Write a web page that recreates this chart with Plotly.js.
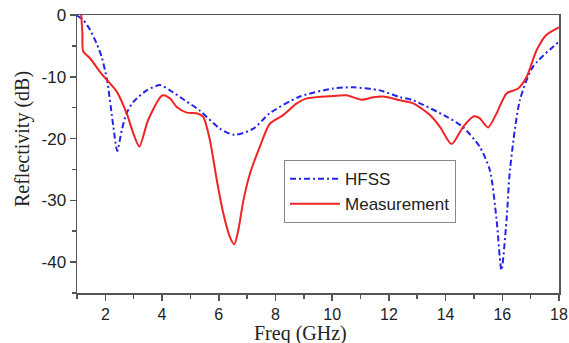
<!DOCTYPE html>
<html>
<head>
<meta charset="utf-8">
<script src="https://cdn.plot.ly/plotly-3.0.1.min.js"></script>
<style>html,body{margin:0;padding:0;background:#fff;}#chart{width:569px;height:343px;}</style>
</head>
<body>
<div id="chart"></div>
<script>
const hfssFreq = [1.0, 1.22, 1.46, 1.69, 1.87, 2.06, 2.28, 2.42, 2.58, 2.75, 2.99, 3.46, 3.93, 4.28, 4.8, 5.34, 6.04, 6.55, 7.22, 7.8, 8.86, 10.04, 10.74, 11.68, 12.39, 12.85, 14.05, 14.6, 15.2, 15.56, 15.8, 15.97, 16.15, 16.27, 16.62, 17.08, 18.0];
const hfssRefl = [-0.1, -0.8, -2.4, -4.6, -6.8, -10.5, -18.0, -22.0, -18.6, -15.9, -14.05, -12.2, -11.35, -12.2, -13.8, -15.5, -18.4, -19.4, -18.4, -15.9, -13.2, -11.9, -11.7, -12.2, -13.3, -13.8, -16.5, -18.1, -21.3, -25.1, -33.2, -41.3, -33.2, -25.1, -13.8, -8.4, -4.3];

const measFreq = [1.15, 1.19, 1.22, 1.46, 1.81, 2.05, 2.4, 2.75, 2.99, 3.2, 3.51, 4.02, 4.28, 4.52, 4.87, 5.22, 5.45, 5.69, 5.93, 6.16, 6.39, 6.55, 6.69, 6.87, 7.1, 7.45, 7.8, 8.27, 8.75, 9.1, 10.04, 10.5, 11.04, 11.45, 11.8, 12.39, 12.86, 13.45, 13.8, 14.21, 14.62, 15.0, 15.2, 15.5, 15.8, 16.15, 16.56, 16.86, 17.21, 17.56, 18.0];
const measRefl = [0, -3.0, -5.9, -7.0, -9.2, -10.5, -12.4, -15.9, -19.2, -21.3, -17.0, -13.0, -13.5, -14.9, -15.8, -15.9, -16.5, -20.3, -26.7, -32.1, -35.9, -37.1, -34.8, -30.0, -25.7, -21.3, -17.6, -16.2, -14.3, -13.5, -13.1, -13.0, -13.7, -13.3, -13.2, -13.8, -14.3, -16.2, -18.1, -20.9, -18.1, -16.4, -16.7, -18.2, -15.9, -12.7, -11.9, -10.0, -5.7, -3.2, -2.0];

const xTickVals = [2, 4, 6, 8, 10, 12, 14, 16, 18];
const yTickVals = [0, -10, -20, -30, -40];
const xTitle = 'Freq (GHz)';
const yTitle = 'Reflectivity (dB)';

const traces = [
  {x: hfssFreq, y: hfssRefl, name: 'HFSS', type: 'scatter', mode: 'lines',
   line: {color: '#2424e8', width: 2, dash: '6px,3px,2px,3px', shape: 'spline', smoothing: 0.7}},
  {x: measFreq, y: measRefl, name: 'Measurement', type: 'scatter', mode: 'lines',
   line: {color: '#f02424', width: 2, shape: 'spline', smoothing: 0.7}}
];

const axisCommon = {
  showgrid: false, zeroline: false, showline: true, linecolor: '#555', linewidth: 1.5,
  mirror: true, ticks: 'outside', ticklen: 6, tickwidth: 1.5, tickcolor: '#555',
  tickfont: {family: 'Arial, Liberation Sans, sans-serif', size: 17, color: '#222'}
};
const titleFont = {family: 'Times New Roman, Liberation Serif, serif', size: 20, color: '#222'};

const layout = {
  width: 569, height: 343,
  margin: {l: 77, r: 10, t: 15, b: 50},
  paper_bgcolor: '#fff', plot_bgcolor: '#fff',
  showlegend: true,
  xaxis: Object.assign({}, axisCommon, {
    range: [1, 18], tickvals: xTickVals, ticktext: xTickVals.map(String),
    tickfont: {family: 'Arial, Liberation Sans, sans-serif', size: 16, color: '#222'},
    minor: {ticks: 'outside', dtick: 1, tick0: 1, ticklen: 4, tickwidth: 1.5, tickcolor: '#555'}
  }),
  yaxis: Object.assign({}, axisCommon, {
    range: [-45, 0], tickvals: yTickVals, ticktext: yTickVals.map(String),
    minor: {ticks: 'outside', dtick: 5, tick0: 0, ticklen: 4, tickwidth: 1.5, tickcolor: '#555'}
  }),
  annotations: [
    {text: xTitle, xref: 'paper', yref: 'paper', x: 0.4647, y: -0.147, xanchor: 'center', yanchor: 'middle',
     showarrow: false, font: titleFont},
    {text: yTitle, xref: 'paper', yref: 'paper', x: -0.112, y: 0.554, xanchor: 'center', yanchor: 'middle',
     textangle: -90, showarrow: false, font: titleFont}
  ],
  legend: {
    x: 0.4295, y: 0.478, xanchor: 'left', yanchor: 'top',
    bordercolor: '#888', borderwidth: 1, bgcolor: '#fff',
    font: {family: 'Arial, Liberation Sans, sans-serif', size: 17, color: '#222'},
    itemwidth: 50, tracegroupgap: 0
  }
};

Plotly.newPlot('chart', traces, layout, {displayModeBar: false, staticPlot: true});
</script>
</body>
</html>
